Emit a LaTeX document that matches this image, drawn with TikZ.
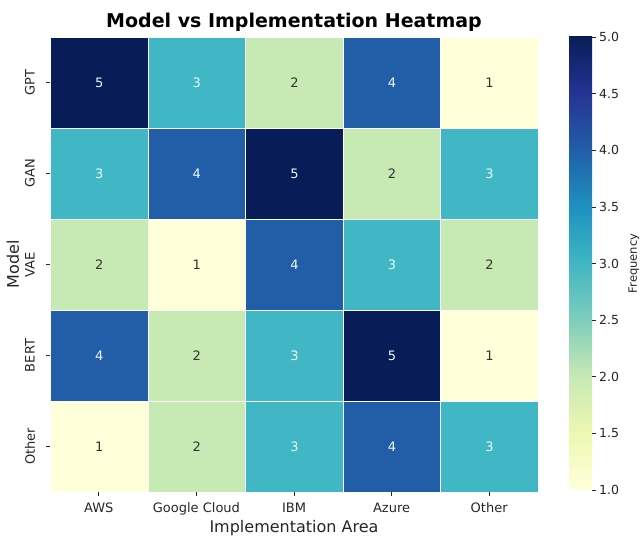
\documentclass[tikz,border=0pt]{standalone}
\usepackage{fontspec}
\setmainfont{DejaVu Sans}
\usetikzlibrary{positioning}

\definecolor{hm1}{HTML}{FFFFD9}
\definecolor{hm2}{HTML}{C7E9B4}
\definecolor{hm3}{HTML}{41B6C4}
\definecolor{hm4}{HTML}{225EA8}
\definecolor{hm5}{HTML}{081D58}
\definecolor{hmA}{HTML}{EDF8B1}
\definecolor{hmB}{HTML}{7FCDBB}
\definecolor{hmC}{HTML}{1D91C0}
\definecolor{hmD}{HTML}{253494}
\definecolor{txt1}{HTML}{333333}
\definecolor{txt2}{HTML}{333333}
\definecolor{txt3}{HTML}{EEF6F6}
\definecolor{txt4}{HTML}{EEF6F6}
\definecolor{txt5}{HTML}{EEF6F6}
\definecolor{labelgray}{HTML}{262626}

\pgfdeclareverticalshading{ylgnbu}{100bp}{%
  color(0bp)=(hm1); color(25bp)=(hm1);
  color(31.25bp)=(hmA); color(37.5bp)=(hm2);
  color(43.75bp)=(hmB); color(50bp)=(hm3);
  color(56.25bp)=(hmC); color(62.5bp)=(hm4);
  color(68.75bp)=(hmD); color(75bp)=(hm5); color(100bp)=(hm5)}

\tikzset{
  cell/.style={draw=white, line width=0.8pt, minimum width=97.6pt,
    minimum height=91pt, inner sep=0pt, anchor=north west,
    font=\fontsize{13}{15}\selectfont},
  ticklabel/.style={text=labelgray, inner sep=0pt, font=\fontsize{13}{15}\selectfont},
  axislabel/.style={text=labelgray, inner sep=0pt, font=\fontsize{16}{18}\selectfont},
  tickmark/.style={labelgray, line width=0.7pt}
}

\begin{document}
\begin{tikzpicture}[x=1pt, y=-1pt]
  \useasboundingbox (0,0) rectangle (641,537);

  \node [font=\bfseries\fontsize{19}{22}\selectfont, anchor=base] (title) at (294,28) {Model vs Implementation Heatmap};

  % heatmap cells
  \foreach \rowname/\vals [count=\r from 0] in {GPT/{5,3,2,4,1}, GAN/{3,4,5,2,3}, VAE/{2,1,4,3,2}, BERT/{4,2,3,5,1}, Other/{1,2,3,4,3}} {
    \foreach \v [count=\c from 0] in \vals {
      \node [cell, fill=hm\v, text=txt\v] (cell-\r-\c) at (50+\c*97.6, 37+\r*91) {\v};
    }
    \draw [tickmark] (46, 82.5+\r*91) -- (50, 82.5+\r*91);
    \node [ticklabel, rotate=90] (model-\r) at (30, 82.5+\r*91) {\rowname};
  }

  \foreach \area [count=\c from 0] in {AWS, Google Cloud, IBM, Azure, Other} {
    \draw [tickmark] (98.8+\c*97.6, 492) -- (98.8+\c*97.6, 496);
    \node [ticklabel, anchor=base] (area-\c) at (98.8+\c*97.6, 513) {\area};
  }

  \node [axislabel, anchor=base] (xlabel) at (294,533) {Implementation Area};
  \node [axislabel, rotate=90] (ylabel) at (13,264.5) {Model};

  % colour bar
  \node [shading=ylgnbu, minimum width=23pt, minimum height=453pt, inner sep=0pt] (cbar) at (580.5,263.5) {};
  \foreach \t [count=\i from 0] in {1.0,1.5,2.0,2.5,3.0,3.5,4.0,4.5,5.0} {
    \draw [tickmark] (592, 490-\i*56.625) -- (596, 490-\i*56.625);
    \node [ticklabel, anchor=west, font=\fontsize{12.5}{14}\selectfont] (tick-\i) at (599, 490-\i*56.625) {\t};
  }
  \node [ticklabel, rotate=90, font=\fontsize{11.5}{13}\selectfont] (cbarlabel) at (634,263.5) {Frequency};
\end{tikzpicture}
\end{document}
